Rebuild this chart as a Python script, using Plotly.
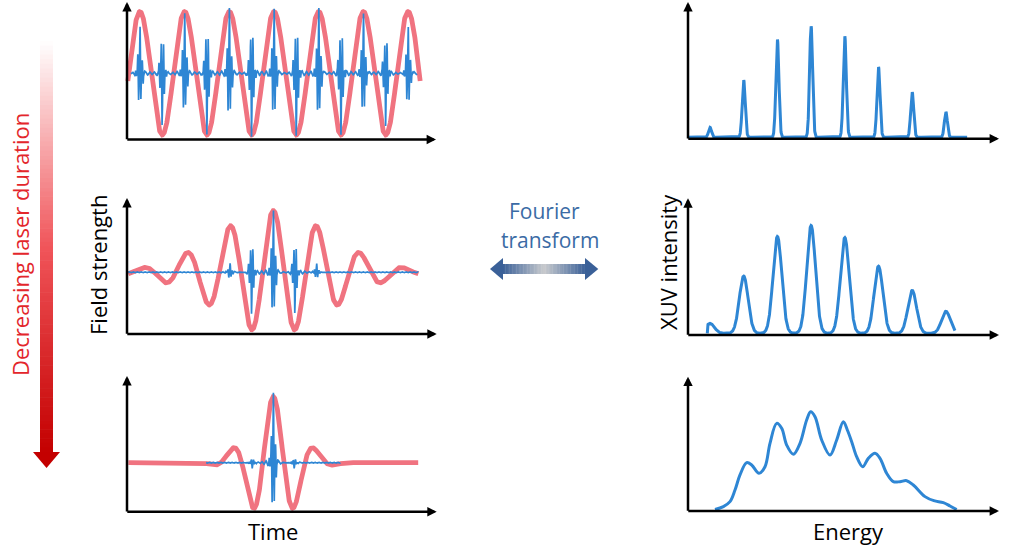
import numpy as np
import plotly.graph_objects as go

W, H = 1012, 550

# ---------------- data ----------------
# Left column: driving laser field (red), time in laser periods
laser_amplitude = [1.00, 1.00, 1.07]        # peak field per panel (top -> bottom)
laser_envelope_sigma = [None, 1.32, 0.56]   # Gaussian envelope width in periods (None = long pulse)
laser_half_span = [3.27, 3.35, 3.45]        # drawn time span (+/-)
xuv_half_span = [3.20, 3.35, 1.60]

# attosecond XUV bursts (blue): emission times and peak field
burst_times_top = [-3.0, -2.5, -2.0, -1.5, -1.0, -0.5, 0.0, 0.5, 1.0, 1.5, 2.0, 2.5, 3.0]
burst_amps_top = [0.73, 0.81, 0.92, 0.94, 1.00, 0.97, 1.00, 0.97, 1.00, 0.94, 0.92, 0.81, 0.73]
burst_times_mid = [-1.0, -0.5, 0.0, 0.5, 1.0]
burst_amps_mid = [0.13, 0.63, 0.96, 0.63, 0.13]
burst_times_bot = [-0.5, 0.0, 0.5]
burst_amps_bot = [0.08, 1.07, 0.08]

# Right column: XUV spectra, energy in harmonic-spacing units
harmonic_energy = [1, 2, 3, 4, 5, 6, 7, 8]
spectrum_top = [0.09, 0.52, 0.89, 1.01, 0.92, 0.64, 0.41, 0.23]
spectrum_mid = [0.09, 0.52, 0.88, 0.98, 0.87, 0.61, 0.39, 0.20]
harmonic_width_top = 0.045
harmonic_width_mid = 0.13
spectrum_top_range = [0.35, 8.63]
spectrum_mid_range = [0.92, 8.27]

energy_bot = [1.148, 1.396, 1.593, 1.742, 1.890, 2.088, 2.236, 2.454, 2.632, 2.780,
              2.978, 3.127, 3.275, 3.473, 3.671, 3.868, 3.987, 4.116, 4.314, 4.561,
              4.759, 4.956, 5.075, 5.204, 5.352, 5.530, 5.698, 5.896, 6.045, 6.242,
              6.440, 6.638, 6.836, 7.033, 7.380, 7.642, 7.924, 8.122, 8.320]
spectrum_bot = [0.000, 0.026, 0.071, 0.177, 0.314, 0.426, 0.405, 0.329, 0.389, 0.602,
                0.783, 0.738, 0.586, 0.502, 0.602, 0.814, 0.889, 0.844, 0.632, 0.495,
                0.632, 0.798, 0.723, 0.617, 0.480, 0.389, 0.465, 0.511, 0.465, 0.329,
                0.253, 0.253, 0.262, 0.223, 0.117, 0.080, 0.062, 0.032, 0.000]

# ---------------- styling ----------------
RED = '#F07380'
BLUE = '#2E86D4'
FONT = 'Open Sans'

# panel geometry in pixels (layout only)
geom_left = [
    dict(t0=274.0, per=44.7, f0=73.3, fs=61.7, ox=127, oy=139.5, xtip=436, ytip=2),
    dict(t0=273.3, per=43.3, f0=272.3, fs=61.7, ox=127, oy=334.0, xtip=436.7, ytip=198),
    dict(t0=273.3, per=42.0, f0=462.7, fs=61.7, ox=127, oy=511.7, xtip=436.7, ytip=376),
]
geom_right = [
    dict(e1=710, de=33.7, b=137.3, s=110, ox=688, oy=138.8, xtip=999, ytip=2),
    dict(e1=710, de=33.7, b=333.3, s=110, ox=688, oy=335.0, xtip=999, ytip=198.3),
    dict(e1=710, de=33.7, b=509.5, s=110, ox=688, oy=511.0, xtip=999, ytip=376.7),
]

fig = go.Figure()
layout = dict()
annotations = []
shapes = []


def add_axes(k, g, fx, fy):
    xn = 'xaxis' if k == 1 else f'xaxis{k}'
    yn = 'yaxis' if k == 1 else f'yaxis{k}'
    xr = 'x' if k == 1 else f'x{k}'
    yr = 'y' if k == 1 else f'y{k}'
    px0, px1 = g['ox'] - 12, g['xtip'] + 6
    py0, py1 = max(g['ytip'] - 4, 0), g['oy'] + 8
    layout[xn] = dict(domain=[px0 / W, px1 / W], range=[fx(px0), fx(px1)], visible=False,
                      anchor=yr, fixedrange=True)
    layout[yn] = dict(domain=[1 - py1 / H, 1 - py0 / H], range=[fy(py1), fy(py0)], visible=False,
                      anchor=xr, fixedrange=True)
    common = dict(xref=xr, yref=yr, axref=xr, ayref=yr, showarrow=True, text='',
                  arrowhead=2, arrowsize=0.75, arrowwidth=2.5, arrowcolor='black',
                  standoff=0, startstandoff=0)
    annotations.append(dict(x=fx(g['xtip']), y=fy(g['oy']), ax=fx(g['ox'] - 1.2), ay=fy(g['oy']), **common))
    annotations.append(dict(x=fx(g['ox']), y=fy(g['ytip']), ax=fx(g['ox']), ay=fy(g['oy'] + 1.2), **common))
    return xr, yr


def xuv_field(t, times, amps):
    sig = np.zeros_like(t)
    for tc, a in zip(times, amps):
        s = np.sign(np.cos(2 * np.pi * tc))
        dt = t - tc
        # main attosecond spike with a few oscillation lines (peak value = a)
        sig += s * a * (0.30 * np.exp(-dt ** 2 / (2 * 0.012 ** 2))
                        + 0.70 * np.exp(-dt ** 2 / (2 * 0.04 ** 2)) * np.cos(2 * np.pi * dt / 0.05))
        # dense inner band (odd, zero at the spike)
        sig += 0.16 * a * np.exp(-dt ** 2 / (2 * 0.05 ** 2)) * np.sin(2 * np.pi * dt / 0.026)
        # weak ringing between bursts
        sig += 0.045 * a * np.exp(-dt ** 2 / (2 * 0.15 ** 2)) * np.sin(2 * np.pi * dt / 0.1)
    sig += 0.008 * np.cos(2 * np.pi * t / 0.09)
    return sig


bursts = [(burst_times_top, burst_amps_top), (burst_times_mid, burst_amps_mid),
          (burst_times_bot, burst_amps_bot)]

for i, g in enumerate(geom_left):
    fx = (lambda g: (lambda px: (px - g['t0']) / g['per']))(g)
    fy = (lambda g: (lambda py: (g['f0'] - py) / g['fs']))(g)
    xr, yr = add_axes(i + 1, g, fx, fy)
    T = laser_half_span[i]
    t = np.arange(-T, T + 1e-9, 0.004)
    env = np.ones_like(t) if laser_envelope_sigma[i] is None else \
        np.exp(-t ** 2 / (2 * laser_envelope_sigma[i] ** 2))
    field = laser_amplitude[i] * env * np.cos(2 * np.pi * t)
    fig.add_trace(go.Scatter(x=t, y=field, mode='lines', line=dict(color=RED, width=4.8),
                             xaxis=xr, yaxis=yr, hoverinfo='skip', showlegend=False))
    Tx = xuv_half_span[i]
    tx = np.arange(-Tx, Tx + 1e-9, 0.003)
    fig.add_trace(go.Scatter(x=tx, y=xuv_field(tx, *bursts[i]), mode='lines',
                             line=dict(color=BLUE, width=1.7),
                             xaxis=xr, yaxis=yr, hoverinfo='skip', showlegend=False))

for i, g in enumerate(geom_right):
    fx = (lambda g: (lambda px: 1 + (px - g['e1']) / g['de']))(g)
    fy = (lambda g: (lambda py: (g['b'] - py) / g['s']))(g)
    xr, yr = add_axes(i + 4, g, fx, fy)
    if i == 2:
        ex, iy, shape = energy_bot, spectrum_bot, 'spline'
    else:
        rng = spectrum_top_range if i == 0 else spectrum_mid_range
        amps = spectrum_top if i == 0 else spectrum_mid
        w = harmonic_width_top if i == 0 else harmonic_width_mid
        e = np.arange(rng[0], rng[1] + 1e-9, 0.004)
        val = np.zeros_like(e)
        for ec, a in zip(harmonic_energy, amps):
            val += a * np.exp(-(e - ec) ** 2 / (2 * w ** 2))
        ex, iy, shape = e, val, 'linear'
        if i == 1:
            ex = np.concatenate([[rng[0]], e])
            iy = np.concatenate([[0.0], val])
    fig.add_trace(go.Scatter(x=ex, y=iy, mode='lines', line=dict(color=BLUE, width=3, shape=shape),
                             xaxis=xr, yaxis=yr, hoverinfo='skip', showlegend=False))


def P(x, y):
    return x / W, 1 - y / H


def mix(c1, c2, f):
    return tuple(int(round(a + (b - a) * f)) for a, b in zip(c1, c2))


# red gradient arrow (decreasing laser duration)
top_y, base_y, tip_y = 41, 452, 468
sx0, sx1 = 40, 53
N = 90
stops = [(255, 255, 255), (240, 85, 90), (196, 0, 0)]
for j in range(N):
    f = (j + 0.5) / N
    c = mix(stops[0], stops[1], f * 2) if f < 0.5 else mix(stops[1], stops[2], (f - 0.5) * 2)
    y0 = top_y + (base_y - top_y) * j / N
    y1 = top_y + (base_y - top_y) * (j + 1) / N + 0.6
    a, b = P(sx0, y0)
    cc, d = P(sx1, y1)
    shapes.append(dict(type='rect', xref='paper', yref='paper', x0=a, x1=cc, y0=d, y1=b,
                       fillcolor='rgb(%d,%d,%d)' % c, line=dict(width=0), layer='below'))
h1 = P(33, base_y); h2 = P(60, base_y); h3 = P(46.5, tip_y)
shapes.append(dict(type='path', xref='paper', yref='paper',
                   path=f'M {h1[0]},{h1[1]} L {h2[0]},{h2[1]} L {h3[0]},{h3[1]} Z',
                   fillcolor='rgb(196,0,0)', line=dict(width=0)))

# Fourier double arrow
lx_tip, lx_base, rx_base, rx_tip = 490, 503, 585, 598.3
ay_c, shaft_h, head_h = 269, 10, 22
dark = (58, 96, 152)
light = (200, 202, 205)
N2 = 60
for j in range(N2):
    f = (j + 0.5) / N2
    c = mix(dark, light, f * 2) if f < 0.5 else mix(light, dark, (f - 0.5) * 2)
    x0 = lx_base - 0.5 + (rx_base - lx_base + 1) * j / N2
    x1 = lx_base - 0.5 + (rx_base - lx_base + 1) * (j + 1) / N2 + 0.4
    a, b = P(x0, ay_c - shaft_h / 2)
    cc, d = P(x1, ay_c + shaft_h / 2)
    shapes.append(dict(type='rect', xref='paper', yref='paper', x0=a, x1=cc, y0=d, y1=b,
                       fillcolor='rgb(%d,%d,%d)' % c, line=dict(width=0)))
for tipx, basex in [(lx_tip, lx_base), (rx_tip, rx_base)]:
    p1 = P(basex, ay_c - head_h / 2); p2 = P(basex, ay_c + head_h / 2); p3 = P(tipx, ay_c)
    shapes.append(dict(type='path', xref='paper', yref='paper',
                       path=f'M {p1[0]},{p1[1]} L {p2[0]},{p2[1]} L {p3[0]},{p3[1]} Z',
                       fillcolor='rgb(%d,%d,%d)' % dark, line=dict(width=0)))


def label(text, x, y, size=22, color='black', angle=0):
    px, py = P(x, y)
    annotations.append(dict(text=text, x=px, y=py, xref='paper', yref='paper', showarrow=False,
                            xanchor='center', yanchor='middle', textangle=angle,
                            font=dict(family=FONT, size=size, color=color)))


label('Decreasing laser duration', 20, 245, size=22, color='#E3262B', angle=-90)
label('Field strength', 98, 265, size=22, angle=-90)
label('XUV intensity', 668, 262, size=22, angle=-90)
label('Time', 273, 531, size=22)
label('Energy', 848, 531, size=22)
label('Fourier', 544, 211, size=21, color='#3B6BA5')
label('transform', 550, 240, size=21, color='#3B6BA5')

fig.update_layout(width=W, height=H, margin=dict(l=0, r=0, t=0, b=0),
                  paper_bgcolor='white', plot_bgcolor='rgba(0,0,0,0)',
                  annotations=annotations, shapes=shapes, showlegend=False, **layout)

fig.write_html('out.html', config={'displayModeBar': False})
